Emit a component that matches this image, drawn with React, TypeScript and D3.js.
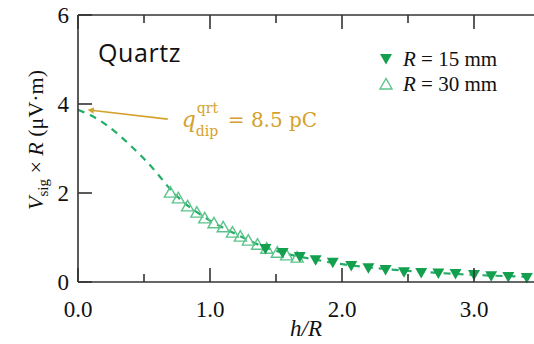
import React from 'react';
import * as d3 from 'd3';

// Filled markers: R = 15 mm
const hOverR15 = [1.42, 1.55, 1.68, 1.8, 1.93, 2.07, 2.2, 2.33, 2.47, 2.6, 2.73, 2.86, 3.0, 3.13, 3.26, 3.4];
const vR15 = [0.74, 0.65, 0.56, 0.49, 0.43, 0.36, 0.31, 0.27, 0.22, 0.2, 0.19, 0.18, 0.16, 0.13, 0.11, 0.09];
// Open markers: R = 30 mm
const hOverR30 = [0.7, 0.76, 0.83, 0.9, 0.96, 1.03, 1.1, 1.17, 1.23, 1.29, 1.36, 1.43, 1.51, 1.58, 1.66];
const vR30 = [2.02, 1.89, 1.71, 1.57, 1.44, 1.33, 1.24, 1.12, 1.03, 0.94, 0.85, 0.76, 0.67, 0.61, 0.56];
// Dipole model curve
const fitH = [0, 0.1, 0.2, 0.3, 0.4, 0.5, 0.6, 0.7, 0.8, 0.9, 1.0, 1.2, 1.4, 1.6, 1.8, 2.0, 2.3, 2.6, 3.0, 3.5];
const fitV = [3.87, 3.74, 3.56, 3.33, 3.06, 2.77, 2.44, 2.08, 1.79, 1.57, 1.38, 1.07, 0.8, 0.62, 0.5, 0.4, 0.3, 0.23, 0.16, 0.11];

const xMajor = [0, 1, 2, 3];
const xMajorLabels = ['0.0', '1.0', '2.0', '3.0'];
const xMinor = [0.5, 1.5, 2.5, 3.5];
const yMajor = [0, 2, 4, 6];
const yLabels = ['0', '2', '4', '6'];

const legendLabels = ['15 mm', '30 mm'];
const dipoleCharge = '8.5 pC';
const sampleName = 'Quartz';

// annotation arrow (data coords): tip and tail
const arrowTip = [0.07, 3.87];
const arrowTail = [0.68, 3.66];

const W = 534;
const H = 344;
const left = 78;
const top = 15;
const bottom = 282;

const GREEN = '#13a04e';
const LIGHT = '#5cc38b';
const DASH = '#22ad68';
const GOLD = '#d4a22c';
const AXIS = '#333';

const serif = '"Liberation Serif", "Times New Roman", serif';

export default function App() {
  const x = d3.scaleLinear().domain([0, 3.5]).range([left, left + 3.5 * 132]);
  const y = d3.scaleLinear().domain([0, 6]).range([bottom, top]);

  const line = d3
    .line<number>()
    .x((_, i) => x(fitH[i]))
    .y((d) => y(d))
    .curve(d3.curveMonotoneX);

  const down = 'M0,5.5L-6,-5L6,-5Z';
  const up = 'M0,-5.5L-6,5L6,5Z';

  const majorLen = 14;
  const minorLen = 8;

  const tip = [x(arrowTip[0]), y(arrowTip[1])];
  const tail = [x(arrowTail[0]), y(arrowTail[1])];

  return (
    <svg
      width={W}
      height={H}
      style={{ position: 'absolute', left: 0, top: 0, background: '#fff' }}
      xmlns="http://www.w3.org/2000/svg"
    >
      <defs>
        <clipPath id="plot">
          <rect x={left} y={top} width={W - left} height={bottom - top} />
        </clipPath>
        <marker id="ah" viewBox="0 0 10 10" refX="1" refY="5" markerWidth="4" markerHeight="4" orient="auto-start-reverse">
          <path d="M0,0L10,5L0,10Z" fill={GOLD} />
        </marker>
      </defs>

      {/* model curve */}
      <path
        d={line(fitV) || ''}
        fill="none"
        stroke={DASH}
        strokeWidth={2.2}
        strokeDasharray="7 6"
        clipPath="url(#plot)"
      />

      {/* R = 30 mm, open */}
      {hOverR30.map((h, i) => (
        <path
          key={'o' + i}
          d={up}
          transform={`translate(${x(h)},${y(vR30[i])})`}
          fill="none"
          stroke={LIGHT}
          strokeWidth={1.4}
        />
      ))}
      {/* R = 15 mm, filled */}
      {hOverR15.map((h, i) => (
        <path key={'f' + i} d={down} transform={`translate(${x(h)},${y(vR15[i])})`} fill={GREEN} />
      ))}

      {/* frame */}
      <g stroke={AXIS} strokeWidth={1.6} fill="none">
        <line x1={left} x2={left} y1={top} y2={bottom} />
        <line x1={left} x2={W} y1={bottom} y2={bottom} />
        <line x1={left} x2={W} y1={top} y2={top} />
        {xMajor.map((v) => (
          <g key={'xm' + v}>
            <line x1={x(v)} x2={x(v)} y1={bottom} y2={bottom - majorLen} />
            <line x1={x(v)} x2={x(v)} y1={top} y2={top + majorLen} />
          </g>
        ))}
        {xMinor.map((v) => (
          <g key={'xn' + v}>
            <line x1={x(v)} x2={x(v)} y1={bottom} y2={bottom - minorLen} />
            <line x1={x(v)} x2={x(v)} y1={top} y2={top + minorLen} />
          </g>
        ))}
        {yMajor.map((v) => (
          <line key={'ym' + v} x1={left} x2={left + majorLen} y1={y(v)} y2={y(v)} />
        ))}
      </g>

      {/* tick labels */}
      <g fontFamily={serif} fontSize={23} fill="#111">
        {xMajor.map((v, i) => (
          <text key={'xl' + v} x={x(v)} y={317} textAnchor="middle">
            {xMajorLabels[i]}
          </text>
        ))}
        {yMajor.map((v, i) => (
          <text key={'yl' + v} x={69} y={y(v)} dy="0.35em" textAnchor="end">
            {yLabels[i]}
          </text>
        ))}
      </g>

      {/* axis titles */}
      <text x={(left + W) / 2} y={336} textAnchor="middle" fontFamily={serif} fontSize={23} fontStyle="italic" fill="#111">
        h/R
      </text>
      <text
        transform={`translate(43,140) rotate(-90)`}
        textAnchor="middle"
        fontFamily={serif}
        fontSize={22}
        fill="#111"
      >
        <tspan fontStyle="italic">V</tspan>
        <tspan fontSize={15} dy={5}>sig</tspan>
        <tspan dy={-5}> × </tspan>
        <tspan fontStyle="italic">R</tspan>
        <tspan> (μV·m)</tspan>
      </text>

      {/* sample name */}
      <text x={98} y={62} fontFamily='"Open Sans", sans-serif' fontSize={25} letterSpacing={0.6} fill="#111">
        {sampleName}
      </text>

      {/* legend */}
      <path d={down} transform="translate(386,59)" fill={GREEN} />
      <path d={up} transform="translate(386,84)" fill="none" stroke={LIGHT} strokeWidth={1.4} />
      <g fontFamily={serif} fontSize={21} fill="#111">
        <text x={403} y={66}>
          <tspan fontStyle="italic">R</tspan>
          <tspan> = {legendLabels[0]}</tspan>
        </text>
        <text x={403} y={91}>
          <tspan fontStyle="italic">R</tspan>
          <tspan> = {legendLabels[1]}</tspan>
        </text>
      </g>

      {/* annotation */}
      <line
        x1={tail[0]}
        y1={tail[1]}
        x2={tip[0] + 6}
        y2={tip[1] + 0.7}
        stroke={GOLD}
        strokeWidth={1.6}
        markerEnd="url(#ah)"
      />
      <g fontFamily='"DejaVu Serif", serif' fill={GOLD} fontSize={20}>
        <text x={tail[0] + 14} y={tail[1] + 8}>
          <tspan fontStyle="italic" fontSize={22}>q</tspan>
        </text>
        <text x={tail[0] + 29} y={tail[1] - 6} fontSize={14}>qrt</text>
        <text x={tail[0] + 28} y={tail[1] + 17} fontSize={14}>dip</text>
        <text x={tail[0] + 60} y={tail[1] + 8}>= {dipoleCharge}</text>
      </g>
    </svg>
  );
}
